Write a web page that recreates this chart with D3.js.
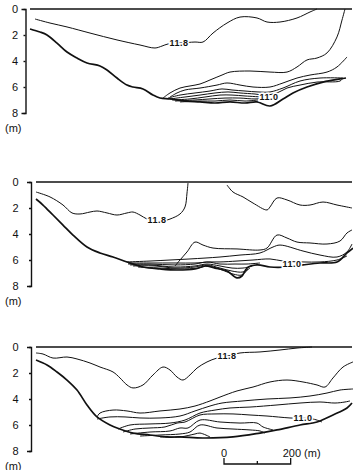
<!DOCTYPE html>
<html>
<head>
<meta charset="utf-8">
<script src="https://cdn.jsdelivr.net/npm/d3@7"></script>
<style>
  body { margin: 0; background: #fff; }
  svg { display: block; }
  .axis text { font-family: "Liberation Sans", Arial, sans-serif; font-size: 11px; fill: #111; }
  .axis path, .axis line { stroke: #111; stroke-width: 1.4; }
  .iso { fill: none; stroke: #111; stroke-width: 1; }
  .bed { fill: none; stroke: #111; stroke-width: 1.7; }
  .surface { fill: none; stroke: #111; stroke-width: 1.6; }
  .unit { font-family: "Liberation Sans", Arial, sans-serif; font-size: 11px; fill: #111; }
  .lab { font-family: "Liberation Sans", Arial, sans-serif; font-size: 9px; font-weight: bold;
         fill: #111; stroke: #fff; stroke-width: 3; paint-order: stroke; letter-spacing: 0.5px; }
</style>
</head>
<body>
<svg id="chart" width="353" height="470"></svg>
<script>
// distance along section (m), depth (m)
const depthTicks = [0, 2, 4, 6, 8];
const scaleBarStart = 582;
const scaleBarLength = 200;

// ---- section 1
const s1Surface = [[0, 0], [966, 0]];
const s1Bed = [[0,1.54],[30,1.77],[51,2.0],[81,2.62],[111,3.31],[141,3.77],[171,4.15],[210,4.38],[231,4.69],
  [261,5.31],[291,5.85],[309,6.0],[339,6.15],[369,6.62],[390,6.85],[420,6.92],[465,7.08],[510,7.15],[555,7.23],
  [600,7.15],[645,7.23],[681,7.15],[720,7.46],[759,6.92],[789,6.46],[831,6.0],[879,5.62],[930,5.38],[948,5.31]];
const s1Iso118 = [[15,0.77],[60,1.08],[111,1.38],[180,1.85],[261,2.38],[330,2.77],[375,3.0],[396,2.85],[414,2.69],
  [450,2.62],[495,2.54],[519,2.54],[549,1.85],[591,1.08],[630,0.62],[681,0.69],[711,1.0],[750,1.0],[801,0.69],
  [840,0.23],[861,0]];
const s1IsoB = [[399,6.85],[420,6.46],[450,6.08],[480,5.92],[510,5.77],[540,5.46],[576,5.08],[600,4.85],[660,4.77],
  [720,4.85],[771,4.85],[801,4.46],[831,3.92],[861,3.77],[891,3.38],[921,2.15],[936,0.85],[945,0]];
const s1IsoC = [[420,6.77],[441,6.46],[465,6.23],[510,6.08],[561,5.85],[591,5.69],[630,5.85],[669,6.0],[720,6.0],
  [759,5.69],[801,5.31],[840,5.08],[891,4.85],[921,4.46],[951,3.69]];
const s1IsoD = [[414,6.85],[450,6.62],[495,6.46],[540,6.31],[576,6.15],[606,6.23],[645,6.31],[684,6.38],[720,6.38],
  [759,6.08],[810,5.54],[870,5.31],[939,5.31]];
const s1IsoE = [[420,6.92],[465,6.77],[510,6.62],[555,6.46],[594,6.38],[630,6.46],[675,6.54],[705,6.62],[741,6.46],
  [771,6.08],[810,5.85],[861,5.62],[930,5.54],[939,5.31]];
const s1IsoF = [[426,7.0],[480,6.92],[525,6.77],[570,6.62],[606,6.62],[645,6.69],[696,6.77]];
const s1IsoG = [[435,7.08],[495,7.0],[540,6.92],[585,6.85],[630,6.85],[675,6.92],[696,6.85]];
const s1IsoH = [[450,7.15],[510,7.08],[555,7.08],[600,7.0],[645,7.08],[684,7.0]];
const s1Labels = [{ text: "11.8", at: [447, 2.62] }, { text: "11.0", at: [717, 6.77] }];

// ---- section 2
const s2Surface = [[18, 0], [966, 0]];
const s2Bed = [[18,1.31],[39,1.77],[69,2.54],[99,3.31],[129,4.08],[171,5.0],[210,5.46],[249,5.77],[291,6.15],
  [339,6.54],[390,6.69],[441,6.77],[495,6.69],[525,6.46],[555,6.62],[591,6.85],[621,7.38],[636,7.23],[651,6.62],
  [681,6.38],[720,6.54],[771,6.54],[819,6.38],[870,6.23],[921,6.15],[951,5.46],[969,5.08]];
const s2Iso118 = [[18,0.77],[60,1.15],[99,1.77],[126,2.38],[150,2.46],[180,2.31],[201,2.23],[231,2.38],[261,2.54],
  [291,2.38],[309,2.31],[330,2.54],[351,2.85],[375,3.0],[399,3.0],[420,2.85],[450,2.46],[465,1.92],[471,0.85],[474,0.08]];
const s2IsoRight = [[591,0.23],[609,0.77],[639,1.15],[669,1.62],[711,2.15],[720,1.92],[741,1.23],[771,1.38],
  [810,1.77],[840,1.77],[879,1.54],[921,1.77],[966,2.0]];
const s2IsoC = [[435,6.46],[450,6.0],[471,5.38],[495,4.62],[519,4.85],[549,5.08],[621,5.15],[690,5.23],[711,5.08],
  [741,4.08],[771,4.31],[801,4.62],[840,4.69],[891,4.77],[930,4.54],[951,3.92],[966,3.69]];
const s2IsoD = [[291,6.15],[360,6.08],[420,6.0],[480,5.92],[525,5.85],[570,5.77],[630,5.62],[690,5.46],[729,5.0],
  [750,4.85],[819,5.31],[870,5.62],[921,5.77],[951,5.38],[966,4.77]];
const s2Iso110 = [[294,6.23],[360,6.23],[435,6.23],[495,6.23],[540,6.15],[570,6.15],[621,6.08],[669,6.0],[720,5.92],
  [759,6.08],[819,6.15],[870,6.15],[921,6.0],[951,5.69]];
const s2IsoF = [[294,6.31],[360,6.31],[435,6.38],[495,6.31],[531,6.15],[570,6.31],[615,6.31],[651,6.31],[690,6.23]];
const s2IsoG = [[300,6.38],[360,6.38],[435,6.54],[495,6.46],[531,6.31],[570,6.46],[606,6.62],[639,6.62],[666,6.46]];
const s2IsoH = [[309,6.46],[375,6.46],[435,6.62],[495,6.54],[531,6.38],[570,6.62],[606,6.85],[639,6.92],[660,6.62]];
const s2IsoI = [[324,6.54],[390,6.62],[450,6.69],[504,6.62],[534,6.46],[576,6.77],[609,7.08],[636,7.15],[654,6.69]];
const s2Labels = [{ text: "11.8", at: [381, 2.92] }, { text: "11.0", at: [786, 6.31] }];

// ---- section 3
const s3Surface = [[18, 0], [966, 0]];
const s3Bed = [[18,1.0],[51,1.38],[81,1.92],[111,2.54],[141,3.31],[171,4.46],[201,5.38],[240,6.0],[270,6.31],
  [309,6.62],[360,6.77],[411,6.92],[450,6.92],[519,7.0],[609,6.92],[690,6.62],[741,6.38],[810,6.0],[861,5.77],
  [909,5.23],[951,4.69],[966,4.31]];
const s3Iso118 = [[18,0.46],[39,0.54],[69,0.85],[111,0.77],[141,0.92],[180,1.23],[210,1.54],[249,1.92],[270,2.38],
  [291,2.92],[309,3.15],[339,2.92],[369,2.15],[399,1.54],[420,1.77],[441,2.31],[459,2.54],[480,2.15],[501,1.62],
  [531,1.15],[561,0.85],[594,0.69],[630,0.46],[690,0.38],[750,0.23],[801,0.08],[846,0]];
const s3IsoB = [[201,5.38],[210,5.08],[249,4.85],[291,4.92],[330,5.08],[390,4.92],[450,4.77],[495,4.54],[540,4.15],
  [570,3.85],[621,3.38],[669,3.08],[720,2.69],[771,2.54],[819,2.69],[861,2.92],[885,3.08],[909,2.38],[939,1.54],[969,1.15]];
const s3IsoC = [[201,5.54],[240,5.38],[285,5.38],[330,5.46],[390,5.46],[450,5.31],[495,4.92],[540,4.54],[576,4.31],
  [639,4.15],[711,4.0],[780,3.92],[840,3.77],[891,3.54],[930,3.31],[969,3.23]];
const s3IsoD = [[264,6.31],[300,6.0],[360,5.92],[420,5.85],[465,5.62],[510,5.08],[555,4.85],[600,4.69],[660,4.62],
  [741,4.46],[810,4.31],[870,4.23],[915,4.31],[945,4.23],[960,4.15]];
const s3Iso110 = [[279,6.54],[315,6.31],[360,6.23],[405,6.15],[441,5.85],[465,5.77],[510,5.23],[555,5.15],[609,5.15],
  [660,5.23],[711,5.31],[780,5.46],[849,5.54],[876,5.77]];
const s3IsoF = [[300,6.69],[360,6.54],[420,6.46],[450,6.23],[474,6.23],[510,5.62],[570,5.77],[630,5.85],[681,5.85],
  [699,6.15],[729,6.38]];
const s3IsoG = [[330,6.85],[390,6.77],[450,6.69],[480,6.54],[510,6.0],[561,6.23],[609,6.31],[660,6.38],[690,6.46],[705,6.62]];
const s3IsoH = [[390,6.92],[450,6.92],[495,6.69],[510,6.62],[540,6.92]];
const s3Labels = [{ text: "11.8", at: [591, 0.69] }, { text: "11.0", at: [819, 5.46] }];

const panels = [
  { top: 9,   axisX: 25.5, pad: 5.5,  surface: s1Surface, bed: s1Bed,
    lines: [s1Iso118, s1IsoB, s1IsoC, s1IsoD, s1IsoE, s1IsoF, s1IsoG, s1IsoH], labels: s1Labels },
  { top: 182, axisX: 31,   pad: 10.5, surface: s2Surface, bed: s2Bed,
    lines: [s2Iso118, s2IsoRight, s2IsoC, s2IsoD, s2Iso110, s2IsoF, s2IsoG, s2IsoH, s2IsoI], labels: s2Labels },
  { top: 347, axisX: 31,   pad: 10.5, surface: s3Surface, bed: s3Bed,
    lines: [s3Iso118, s3IsoB, s3IsoC, s3IsoD, s3Iso110, s3IsoF, s3IsoG, s3IsoH], labels: s3Labels }
];

const svg = d3.select("#chart");
const x = d3.scaleLinear().domain([0, 960]).range([30, 350]);

panels.forEach(function(p) {
  const y = d3.scaleLinear().domain([0, 8]).range([p.top, p.top + 104]);
  const line = d3.line()
    .x(function(d) { return x(d[0]); })
    .y(function(d) { return y(d[1]); })
    .curve(d3.curveCatmullRom.alpha(0.5));

  const g = svg.append("g");

  const axis = d3.axisLeft(y)
    .tickValues(depthTicks)
    .tickSizeInner(2)
    .tickSizeOuter(4)
    .tickPadding(p.pad);
  g.append("g")
    .attr("class", "axis")
    .attr("transform", "translate(" + p.axisX + ",0)")
    .call(axis)
    .call(function(a) { a.selectAll("text").attr("dy", "0.36em"); });

  g.append("text")
    .attr("class", "unit")
    .attr("x", 5)
    .attr("y", y(8) + 18.5)
    .text("(m)");

  g.append("path").datum(p.surface).attr("class", "surface").attr("d", line);

  g.selectAll("path.iso")
    .data(p.lines)
    .enter().append("path")
    .attr("class", "iso")
    .attr("d", line);

  g.append("path").datum(p.bed).attr("class", "bed").attr("d", line);

  g.selectAll("text.lab")
    .data(p.labels)
    .enter().append("text")
    .attr("class", "lab")
    .attr("text-anchor", "middle")
    .attr("x", function(d) { return x(d.at[0]); })
    .attr("y", function(d) { return y(d.at[1]) + 3; })
    .text(function(d) { return d.text; });
});

// scale bar
const barY = 464;
const bar = svg.append("g");
const x0 = x(scaleBarStart), x1 = x(scaleBarStart + scaleBarLength), xm = x(scaleBarStart + scaleBarLength / 2);
bar.append("path")
  .attr("fill", "none").attr("stroke", "#111").attr("stroke-width", 1.3)
  .attr("d", "M" + x0 + "," + (barY - 6) + "V" + barY + "H" + x1 + "V" + (barY - 6) +
             "M" + xm + "," + barY + "V" + (barY - 3));
bar.append("text").attr("class", "unit").attr("x", x0).attr("y", 457).attr("text-anchor", "middle").text("0");
bar.append("text").attr("class", "unit").attr("x", x1 - 8).attr("y", 457).text(scaleBarLength + " (m)");
</script>
</body>
</html>
